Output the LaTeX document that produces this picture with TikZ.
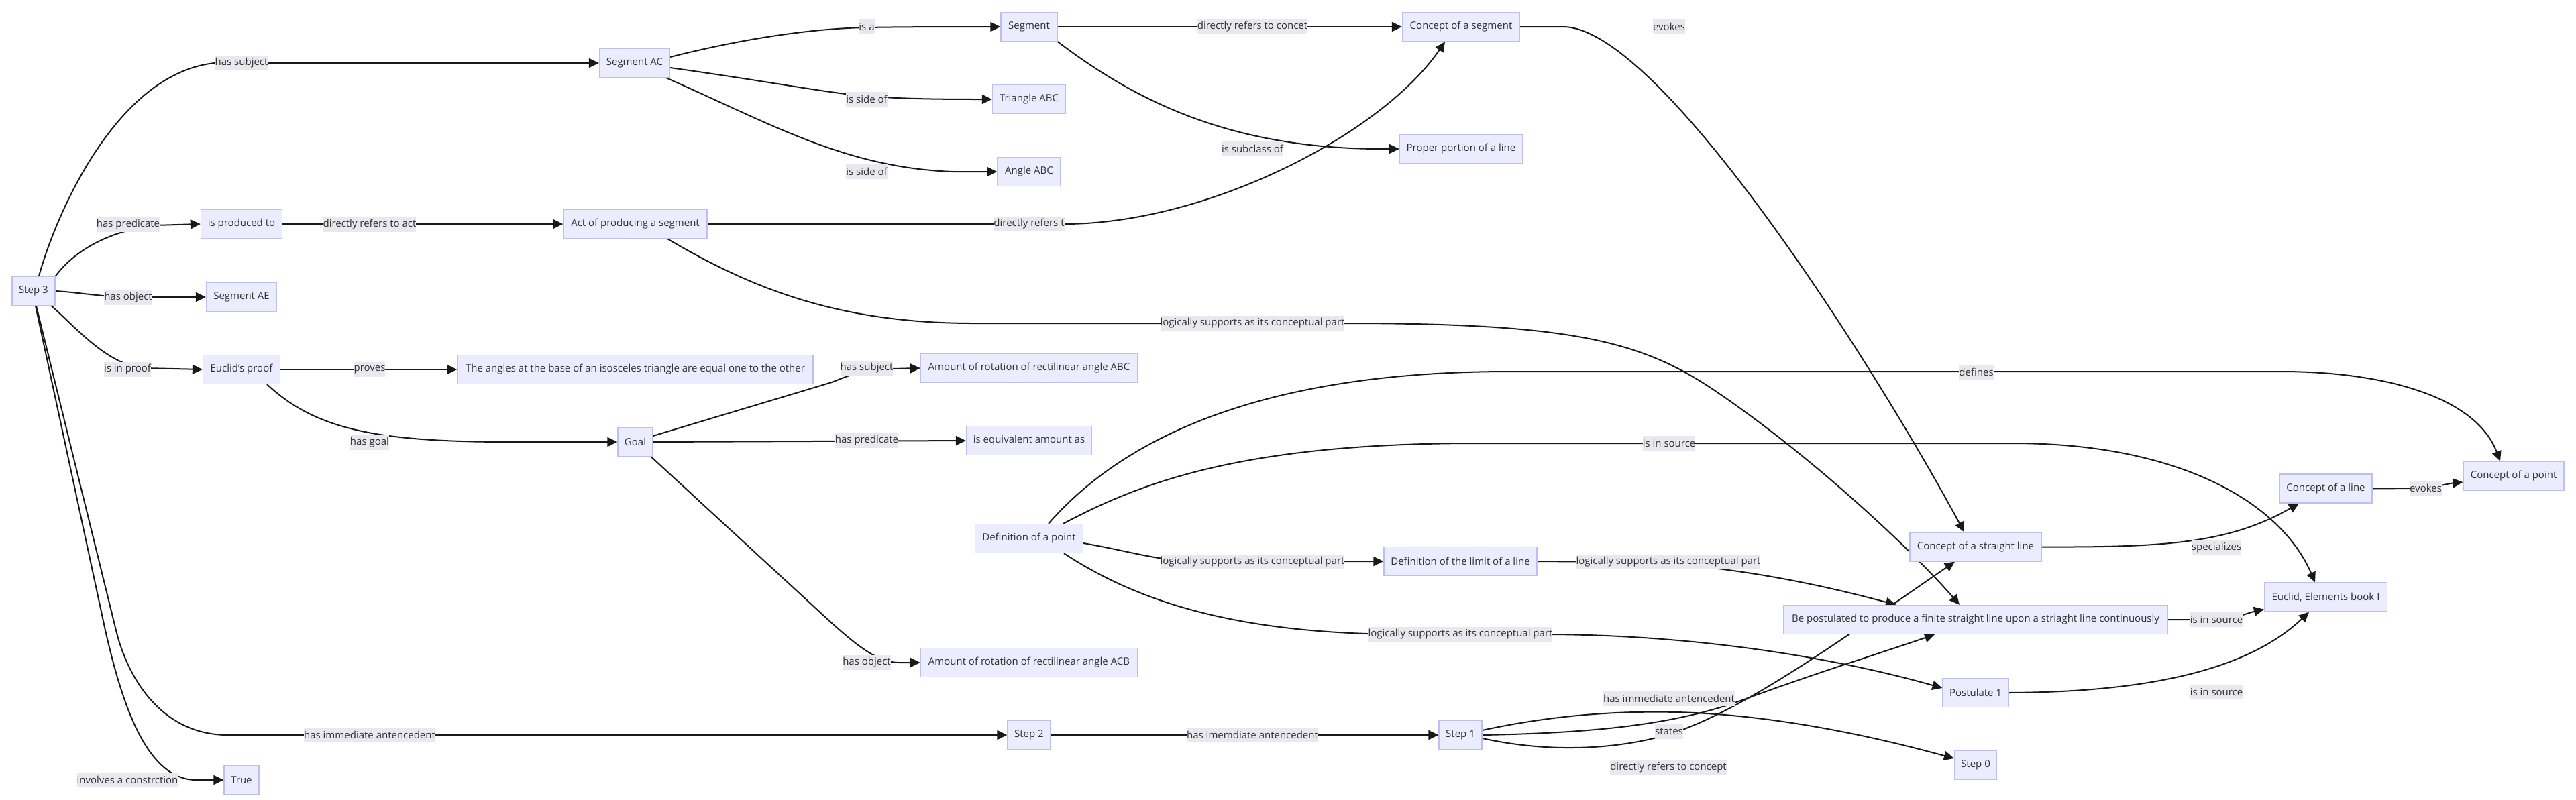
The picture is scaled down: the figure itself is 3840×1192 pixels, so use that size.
\documentclass[tikz,border=0pt]{standalone}
\usepackage{fontspec}
\setmainfont{Open Sans}
\usetikzlibrary{arrows.meta,calc}
\pgfdeclarelayer{bg}
\pgfdeclarelayer{edges}
\pgfsetlayers{bg,edges,main}
\definecolor{nodefill}{RGB}{236,236,255}
\definecolor{nodeborder}{RGB}{190,190,245}
\definecolor{lblfill}{RGB}{232,232,238}
\definecolor{txt}{RGB}{51,51,51}
\definecolor{edgecol}{RGB}{25,25,25}
\tikzset{
  box/.style={draw=nodeborder, fill=nodefill, line width=1.3pt, minimum height=43pt, inner sep=0pt, text=txt, font=\fontsize{15}{18}\selectfont},
  lbl/.style={fill=lblfill, inner xsep=0pt, inner ysep=0pt, minimum height=22pt, text=txt, font=\fontsize{15}{18}\selectfont},
  edge/.style={draw=edgecol, line width=2pt, -{Triangle[length=15pt,width=14pt]}}
}
\begin{document}
\begin{tikzpicture}[x=1pt,y=-1pt]
\useasboundingbox (0,0) rectangle (3840,1192);
\begin{pgfonlayer}{bg}
\fill[white] (0,0) rectangle (3840,1192);
\end{pgfonlayer}
% nodes
\node[box, minimum width=64pt] (step3) at (50,434) {Step 3};
\node[box, minimum width=105pt] (segAC) at (946,94) {Segment AC};
\node[box, minimum width=121pt] (isprod) at (360,334) {is produced to};
\node[box, minimum width=105pt] (segAE) at (360,443) {Segment AE};
\node[box, minimum width=115pt] (euproof) at (360,551) {Euclid's proof};
\node[box, minimum width=52pt] (true) at (360,1163) {True};
\node[box, minimum width=214pt] (actprod) at (947,334) {Act of producing a segment};
\node[box, minimum width=530pt] (angles) at (947,551) {The angles at the base of an isosceles triangle are equal one to the other};
\node[box, minimum width=52pt] (goal) at (947,659) {Goal};
\node[box, minimum width=84pt] (segment) at (1534,40) {Segment};
\node[box, minimum width=109pt] (triangle) at (1534,148) {Triangle ABC};
\node[box, minimum width=94pt] (angleABC) at (1534,256) {Angle ABC};
\node[box, minimum width=323pt] (amountABC) at (1534,549) {Amount of rotation of rectilinear angle ABC};
\node[box, minimum width=187pt] (equiv) at (1534,657) {is equivalent amount as};
\node[box, minimum width=161pt] (defpoint) at (1534,803) {Definition of a point};
\node[box, minimum width=323pt] (amountACB) at (1534,988) {Amount of rotation of rectilinear angle ACB};
\node[box, minimum width=64pt] (step2) at (1534,1096) {Step 2};
\node[box, minimum width=175pt] (conseg) at (2178,40) {Concept of a segment};
\node[box, minimum width=183pt] (proper) at (2178,222) {Proper portion of a line};
\node[box, minimum width=228pt] (deflimit) at (2177,837) {Definition of the limit of a line};
\node[box, minimum width=64pt] (step1) at (2177,1096) {Step 1};
\node[box, minimum width=196pt] (constraight) at (2945,815.5) {Concept of a straight line};
\node[box, minimum width=572pt] (bepost) at (2945,924) {Be postulated to produce a finite straight line upon a striaght line continuously};
\node[box, minimum width=98pt] (post1) at (2945,1033) {Postulate 1};
\node[box, minimum width=63pt] (step0) at (2945,1141) {Step 0};
\node[box, minimum width=138pt] (conline) at (3467,728.5) {Concept of a line};
\node[box, minimum width=183pt] (euclid) at (3467,890.5) {Euclid, Elements book I};
\node[box, minimum width=150pt] (conpoint) at (3747,710) {Concept of a point};
% edges
\begin{pgfonlayer}{edges}
\draw[edge] ([xshift=8pt]step3.north) .. controls (80,330) and (170,110) .. (320,94) -- (segAC.west);
\draw[edge] (step3.north east) .. controls (110,375) and (160,345) .. (230,336) -- (isprod.west);
\draw[edge] (step3.east) .. controls (120,436) and (150,443) .. (200,443) -- (segAE.west);
\draw[edge] ([xshift=-6pt]step3.south east) .. controls (110,485) and (160,545) .. (215,549) -- (euproof.west);
\draw[edge] ([xshift=4pt]step3.south) -- (173,940) .. controls (190,1010) and (240,1096) .. (340,1096) -- (step2.west);
\draw[edge] ([xshift=3pt]step3.south) -- (157,940) .. controls (180,1040) and (215,1160) .. (290,1163) -- (true.west);
\draw[edge] ([yshift=9pt]segAC.east) .. controls (1130,52) and (1230,42) .. (1292,41) .. controls (1350,40) and (1420,40) .. (segment.west);
\draw[edge] ([yshift=-7pt]segAC.east) .. controls (1150,122) and (1240,140) .. (1300,144) .. controls (1360,148) and (1420,148) .. (triangle.west);
\draw[edge] ([xshift=-6pt]segAC.south east) .. controls (1150,185) and (1260,250) .. (1420,256) -- (angleABC.west);
\draw[edge] (isprod.east) -- (actprod.west);
\draw[edge] (actprod.east) -- (1586,334) .. controls (1800,334) and (2060,200) .. ([xshift=-24pt]conseg.south);
\draw[edge] ([xshift=48pt]actprod.south) .. controls (1120,430) and (1250,482) .. (1450,482) -- (2005,482) .. controls (2350,482) and (2450,510) .. (2560,585) .. controls (2700,680) and (2850,820) .. ([xshift=-24pt]bepost.north);
\draw[edge] (segment.east) -- (conseg.west);
\draw[edge] (segment.south east) .. controls (1680,140) and (1820,222) .. (2060,222) -- (proper.west);
\draw[edge] (conseg.east) -- (2330,40) .. controls (2470,40) and (2780,520) .. ([xshift=-17pt]constraight.north);
\draw[edge] ([xshift=29pt]defpoint.north) .. controls (1660,670) and (1850,554) .. (2250,554) -- (3400,554) .. controls (3550,554) and (3690,590) .. ([xshift=-20pt]conpoint.north);
\draw[edge] ([xshift=51pt]defpoint.north) .. controls (1700,720) and (1850,661) .. (2200,661) -- (3000,661) .. controls (3250,661) and (3400,750) .. ([xshift=-16pt]euclid.north);
\draw[edge] ([yshift=-7pt]defpoint.east) .. controls (1690,823) and (1730,838) .. (1800,838) -- (deflimit.west);
\draw[edge] ([xshift=52pt]defpoint.south) .. controls (1700,900) and (1850,946) .. (2100,946) -- (2315,946) .. controls (2550,948) and (2750,985) .. ([yshift=7pt]post1.west);
\draw[edge] (deflimit.east) -- (2420,838) .. controls (2560,840) and (2700,868) .. ([xshift=-119pt]bepost.north);
\draw[edge] ([yshift=9pt]goal.east) -- (1240,570) .. controls (1270,558) and (1290,550) .. (1330,550) -- (amountABC.west);
\draw[edge] (goal.east) -- (equiv.west);
\draw[edge] ([xshift=-3pt]goal.south east) -- (1230,920) .. controls (1280,966) and (1310,988) .. (1340,988) -- (amountACB.west);
\draw[edge] (euproof.east) -- (angles.west);
\draw[edge] ([xshift=38pt]euproof.south) .. controls (470,640) and (560,659) .. (760,659) -- (goal.west);
\draw[edge] (step2.east) -- (step1.west);
\draw[edge] ([yshift=7pt]step1.east) .. controls (2320,1065) and (2420,1060) .. (2500,1062) .. controls (2650,1066) and (2800,1100) .. ([yshift=10pt]step0.west);
\draw[edge] (step1.east) .. controls (2380,1093) and (2500,1080) .. (2600,1043) .. controls (2700,1006) and (2800,975) .. ([xshift=-61pt]bepost.south);
\draw[edge] ([yshift=-5pt]step1.east) .. controls (2320,1125) and (2420,1115) .. (2488,1095) .. controls (2600,1060) and (2750,950) .. ([xshift=-31pt]constraight.south);
\draw[edge] (constraight.east) .. controls (3220,816) and (3320,812) .. ([xshift=-40pt]conline.south);
\draw[edge] (conline.east) -- (3600,728) .. controls (3630,727) and (3650,721) .. ([yshift=-9pt]conpoint.west);
\draw[edge] (bepost.east) -- (3300,924) .. controls (3330,924) and (3350,914) .. ([yshift=4pt]euclid.south west);
\draw[edge] (post1.east) .. controls (3200,1032) and (3350,1000) .. ([xshift=-25pt]euclid.south);
\end{pgfonlayer}
% edge labels
\node[lbl] (l1) at (360,94) {has subject};
\node[lbl] (l2) at (191,335) {has predicate};
\node[lbl] (l3) at (191,444) {has object};
\node[lbl] (l4) at (190,551) {is in proof};
\node[lbl] (l5) at (551,1096) {has immediate antencedent};
\node[lbl] (l6) at (190,1163) {involves a constrction};
\node[lbl] (l7) at (551,335) {directly refers to act};
\node[lbl] (l8) at (551,551) {proves};
\node[lbl] (l9) at (551,660) {has goal};
\node[lbl] (l10) at (1292,40) {is a};
\node[lbl] (l11) at (1292,148) {is side of};
\node[lbl] (l12) at (1292,256) {is side of};
\node[lbl] (l13) at (1534,334) {directly refers t};
\node[lbl] (l14) at (1867,482) {logically supports as its conceptual part};
\node[lbl] (l15) at (1292,549) {has subject};
\node[lbl] (l16) at (1292,657) {has predicate};
\node[lbl] (l17) at (1292,988) {has object};
\node[lbl] (l18) at (1867,40) {directly refers to concet};
\node[lbl] (l19) at (1867,222) {is subclass of};
\node[lbl] (l20) at (1867,838) {logically supports as its conceptual part};
\node[lbl] (l21) at (1867,1096) {has imemdiate antencedent};
\node[lbl] (l22) at (2488,40) {evokes};
\node[lbl] (l23) at (2946,555) {defines};
\node[lbl] (l24) at (2488,661) {is in source};
\node[lbl] (l25) at (2487,838) {logically supports as its conceptual part};
\node[lbl] (l26) at (2177,946) {logically supports as its conceptual part};
\node[lbl] (l27) at (2488,1042) {has immediate antencedent};
\node[lbl] (l28) at (2488,1091) {states};
\node[lbl] (l29) at (2487,1145) {directly refers to concept};
\node[lbl] (l30) at (3304,817) {specializes};
\node[lbl] (l31) at (3616,728) {evokes};
\node[lbl] (l32) at (3304,924) {is in source};
\node[lbl] (l33) at (3304,1032) {is in source};
\end{tikzpicture}
\end{document}
